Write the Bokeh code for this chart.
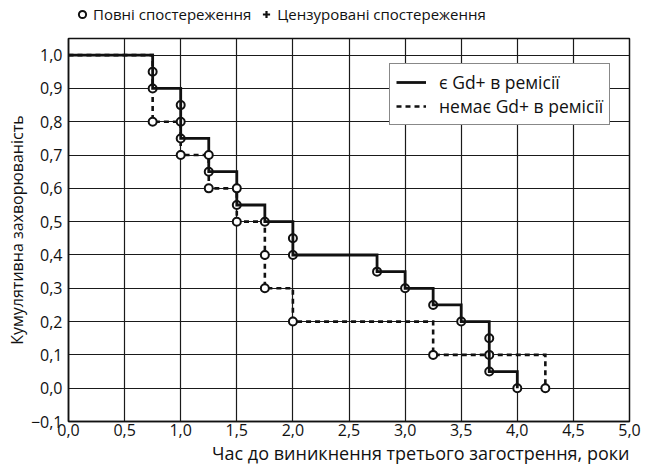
from bokeh.plotting import figure
from bokeh.layouts import column
from bokeh.models import (Range1d, FixedTicker, CustomJSTickFormatter, Legend,
                          LegendItem, Title)
from bokeh.embed import file_html
from bokeh.resources import INLINE

FONT = "Open Sans"
INK = "#111111"

# ---- data ----
x_ticks = [0.0, 0.5, 1.0, 1.5, 2.0, 2.5, 3.0, 3.5, 4.0, 4.5, 5.0]
y_ticks = [-0.1, 0.0, 0.1, 0.2, 0.3, 0.4, 0.5, 0.6, 0.7, 0.8, 0.9, 1.0]

gd_label = "є Gd+ в ремісії"
gd_times = [0.0, 0.75, 1.0, 1.25, 1.5, 1.75, 2.0, 2.75, 3.0, 3.25, 3.5, 3.75, 4.0]
gd_values = [1.0, 0.9, 0.75, 0.65, 0.55, 0.5, 0.4, 0.35, 0.3, 0.25, 0.2, 0.05, 0.0]

nogd_label = "немає Gd+ в ремісії"
nogd_times = [0.0, 0.75, 1.0, 1.25, 1.5, 1.75, 2.0, 3.25, 4.25]
nogd_values = [1.0, 0.8, 0.7, 0.6, 0.5, 0.3, 0.2, 0.1, 0.0]

gd_event_x = [0.75, 0.75, 1.0, 1.0, 1.0, 1.25, 1.5, 1.75, 2.0, 2.0, 2.75, 3.0,
              3.25, 3.5, 3.75, 3.75, 3.75, 4.0]
gd_event_y = [0.95, 0.9, 0.85, 0.8, 0.75, 0.65, 0.55, 0.5, 0.45, 0.4, 0.35, 0.3,
              0.25, 0.2, 0.15, 0.1, 0.05, 0.0]

nogd_event_x = [0.75, 1.0, 1.25, 1.25, 1.5, 1.5, 1.75, 1.75, 2.0, 3.25, 4.25]
nogd_event_y = [0.8, 0.7, 0.7, 0.6, 0.6, 0.5, 0.4, 0.3, 0.2, 0.1, 0.0]

# censored observations: shown only as a legend key
censored_x = [3.25]
censored_y = [0.1]

complete_label = "Повні спостереження"
censored_label = "Цензуровані спостереження"
x_title = "Час до виникнення третього загострення, роки"
y_title = "Кумулятивна захворюваність"

# ---- top key strip ----
key = figure(width=646, height=30, x_range=Range1d(0, 1), y_range=Range1d(0, 1),
             output_backend="svg", toolbar_location=None,
             x_axis_location=None, y_axis_location=None,
             min_border=0, min_border_left=0, min_border_right=0,
             min_border_top=0, min_border_bottom=0)
key.outline_line_color = None
key.grid.visible = False
k_complete = key.scatter(nogd_event_x, nogd_event_y, marker="circle", size=8,
                         fill_color="white", line_color=INK, line_width=2)
k_cens = key.scatter(censored_x, censored_y, marker="cross", size=9,
                     line_color=INK, line_width=2.2)
k_complete.visible = False
k_cens.visible = False
leg_top = Legend(items=[LegendItem(label=complete_label, renderers=[k_complete]),
                        LegendItem(label=censored_label, renderers=[k_cens])],
                 orientation="horizontal", location=(5, 6))
leg_top.label_text_font = FONT
leg_top.label_text_font_size = "15px"
leg_top.label_text_color = INK
leg_top.glyph_width = 18
leg_top.glyph_height = 20
leg_top.label_height = 20
leg_top.label_standoff = 2
leg_top.spacing = 6
leg_top.padding = 3
leg_top.margin = 0
leg_top.border_line_color = None
leg_top.background_fill_alpha = 0
key.add_layout(leg_top)

# ---- main plot ----
p = figure(width=646, height=438,
           x_range=Range1d(0, 5.0), y_range=Range1d(-0.1, 1.05),
           output_backend="svg", toolbar_location=None,
           min_border_left=68, min_border_right=17,
           min_border_top=8, min_border_bottom=47)

p.background_fill_color = "white"
p.border_fill_color = "white"
p.outline_line_color = INK
p.outline_line_width = 1.5

fmt = CustomJSTickFormatter(code="return tick.toFixed(1).replace('.', ',').replace('-', '\u2212');")
for ax, ticks in ((p.xaxis[0], x_ticks), (p.yaxis[0], y_ticks)):
    ax.ticker = FixedTicker(ticks=ticks)
    ax.formatter = fmt
    ax.major_label_text_font = FONT
    ax.major_label_text_font_size = "16px"
    ax.major_label_text_color = INK
    ax.major_tick_line_color = None
    ax.minor_tick_line_color = None
    ax.major_tick_out = 0
    ax.major_tick_in = 0
    ax.axis_line_color = INK
    ax.axis_line_width = 1.5

p.xaxis[0].major_label_standoff = 2
p.yaxis[0].major_label_standoff = 6

yt = Title(text=y_title, align="center", text_font=FONT, text_font_size="16px",
           text_font_style="normal", text_color=INK, offset=12, standoff=0)
p.add_layout(yt, "left")

xt = Title(text=x_title, align="right", text_font=FONT, text_font_size="18px",
           text_font_style="normal", text_color=INK, offset=0, standoff=0)
p.add_layout(xt, "below")

p.grid.grid_line_color = "#1a1a1a"
p.grid.grid_line_width = 1.2
p.xgrid.ticker = FixedTicker(ticks=x_ticks)
p.ygrid.ticker = FixedTicker(ticks=y_ticks)

# ---- glyphs ----
r_nogd = p.step(nogd_times, nogd_values, mode="after", line_color=INK,
                line_width=2.6, line_dash="5 4", line_join="miter")
r_gd_ev = p.scatter(gd_event_x, gd_event_y, marker="circle", size=8,
                    fill_color="white", line_color=INK, line_width=2)
r_gd = p.step(gd_times, gd_values, mode="after", line_color=INK,
              line_width=2.8, line_join="miter")
r_nogd_ev = p.scatter(nogd_event_x, nogd_event_y, marker="circle", size=8,
                      fill_color="white", line_color=INK, line_width=2)

leg_in = Legend(items=[LegendItem(label=gd_label, renderers=[r_gd]),
                       LegendItem(label=nogd_label, renderers=[r_nogd])],
                location=(321, 296))
leg_in.label_text_font = FONT
leg_in.label_text_font_size = "17.5px"
leg_in.label_text_color = INK
leg_in.glyph_width = 30
leg_in.glyph_height = 16
leg_in.label_height = 16
leg_in.label_standoff = 13
leg_in.spacing = 0
leg_in.padding = 6
leg_in.margin = 0
leg_in.border_line_color = INK
leg_in.border_line_width = 1.5
leg_in.background_fill_alpha = 1.0
p.add_layout(leg_in)

layout = column(key, p, spacing=0)
open("out.html", "w").write(file_html(layout, INLINE))
